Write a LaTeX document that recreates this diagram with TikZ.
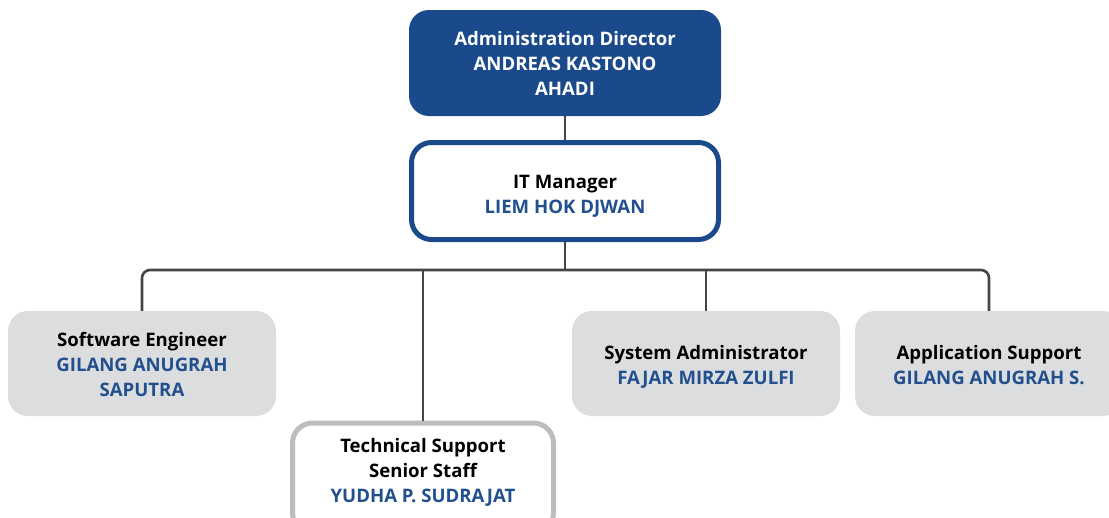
\documentclass[tikz,border=0pt]{standalone}
\usepackage{fontspec}
\setmainfont{Open Sans}
\definecolor{dblue}{HTML}{1B4A8C}
\definecolor{nblue}{HTML}{22508F}
\definecolor{lgray}{HTML}{DCDDDE}
\definecolor{bgray}{HTML}{BDBDBD}
\definecolor{cgray}{HTML}{454545}
\begin{document}
\begin{tikzpicture}[x=1pt,y=-1pt,
  boxbase/.style={rounded corners=20pt, minimum width=#1, minimum height=105pt, inner sep=0pt},
  boxbase/.default=268pt,
  dirbox/.style={boxbase=312pt, fill=dblue, minimum height=106pt},
  mgrbox/.style={boxbase=307pt, draw=dblue, line width=5pt, fill=white, minimum height=97pt},
  graybox/.style={boxbase, fill=lgray},
  tsbox/.style={boxbase=261pt, draw=bgray, line width=5pt, fill=white, minimum height=110pt},
  txt/.style={align=center, inner sep=0pt, font=\fontsize{18.6}{25}\selectfont\bfseries},
  conn/.style={draw=cgray, line width=2.6pt}]
\useasboundingbox (0,0) rectangle (1109,517);
\clip (0,0) rectangle (1109,517);
\fill[white] (0,0) rectangle (1109,517);
\coordinate (busy) at (0,270);
\node[dirbox] (dir) at (565,63) {};
\node[mgrbox] (mgr) at (565,191) {};
\node[graybox] (se) at (142,363.5) {};
\node[graybox] (sa) at (706,363.5) {};
\node[graybox] (ap) at (989,363.5) {};
\node[tsbox, anchor=north] (ts) at (423,420.5) {};
\draw[conn] (dir.south) -- (mgr.north);
\draw[conn] (mgr.south) -- (mgr.south |- busy);
\draw[conn, rounded corners=8pt] (se.north) |- (busy -| ap.north) -- (ap.north);
\draw[conn] (ts.north) -- (ts.north |- busy);
\draw[conn] (sa.north) -- (sa.north |- busy);
\node[txt, text=white] (dirt) at (565,63) {Administration Director\\ANDREAS KASTONO\\AHADI};
\node[txt] (mgrt) at (565,196) {IT Manager\\\textcolor{nblue}{LIEM HOK DJWAN}};
\node[txt] (set) at (142,364.5) {Software Engineer\\\textcolor{nblue}{GILANG ANUGRAH}\\\textcolor{nblue}{SAPUTRA}};
\node[txt] (sat) at (706,366.5) {System Administrator\\\textcolor{nblue}{FAJAR MIRZA ZULFI}};
\node[txt] (apt) at (989,365.5) {Application Support\\\textcolor{nblue}{GILANG ANUGRAH S.}};
\node[txt] (tst) at (423,472.5) {Technical Support\\Senior Staff\\\textcolor{nblue}{YUDHA P. SUDRAJAT}};
\end{tikzpicture}
\end{document}
